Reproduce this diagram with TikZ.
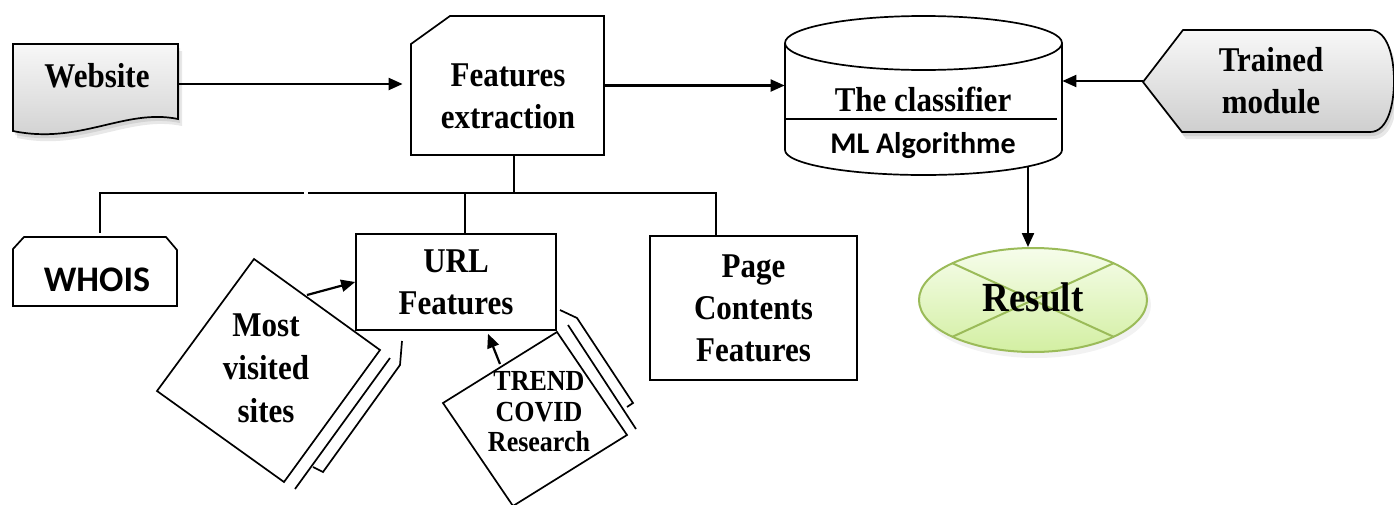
\documentclass[tikz,border=0pt]{standalone}
\usepackage{fontspec}
\setmainfont{Liberation Serif}
\newfontfamily\calibfont{Carlito}
\usetikzlibrary{arrows.meta,calc,shapes.geometric}
\definecolor{resgreen}{HTML}{9BBB59}
\definecolor{restop}{HTML}{F6FDEB}
\definecolor{resbot}{HTML}{D3EFA2}
% slightly tall lettering
\newcommand{\tl}[1]{\scalebox{1}[1.12]{#1}}
% outlines of the two shaded shapes
\def\websitepath{(13,-44) -- (178,-44) -- (178,-119) .. controls (125,-108) and (80,-145) .. (13,-131) -- cycle}
\def\trainedpath{(1143,-82) -- (1183,-30) -- (1370,-30) .. controls (1388,-30) and (1394,-58) .. (1394,-81) .. controls (1394,-104) and (1388,-132) .. (1370,-132) -- (1182,-132) -- cycle}
\begin{document}
\begin{tikzpicture}[x=0.5pt,y=0.5pt,
  outline/.style={draw=black,line width=0.85pt},
  link/.style={draw=black,line width=0.85pt},
  arr/.style={draw=black,line width=1.1pt,-{Triangle[length=7pt,width=6pt]}},
  serif/.style={font=\bfseries\fontsize{15.5}{21}\selectfont,align=center,inner sep=0pt},
  sans/.style={font=\calibfont\bfseries\fontsize{15}{18}\selectfont,align=center,inner sep=0pt},
  anchorbox/.style={inner sep=0pt,draw=none},
  paper/.style={top color=gray!6,bottom color=gray!38,draw=black,line width=0.85pt},
  softshade/.style={fill=black,opacity=0.09},
]
\useasboundingbox (0,0) rectangle (1394,-504);
\fill[white] (0,0) rectangle (1394,-504);
\clip (0,0) rectangle (1394,-504);

% ---------- Website (document shape) ----------
\begin{scope}[shift={(2,-4)}]\fill[softshade] \websitepath;\end{scope}
\begin{scope}[shift={(4,-7)}]\fill[softshade] \websitepath;\end{scope}
\path[paper] \websitepath;
\node[anchorbox,minimum width=82.5pt,minimum height=40pt] (website) at (95.5,-84) {};
\node[serif] (websiteT) at (97,-76) {\tl{Website}};

% ---------- Features extraction (snipped corner) ----------
\draw[outline,fill=white] (411,-44) -- (450,-16) -- (604,-16) -- (604,-155) -- (411,-155) -- cycle;
\node[anchorbox,minimum width=96.5pt,minimum height=69.5pt] (feat) at (507.5,-85.5) {};
\node[serif] (featT) at (508,-96) {\tl{Features}\\\tl{extraction}};

% ---------- The classifier (cylinder) ----------
\fill[white] (785,-43) -- (785,-150) arc[start angle=180,end angle=360,x radius=138.5,y radius=25] -- (1062,-43) -- cycle;
\draw[outline,fill=white] (923.5,-43) ellipse[x radius=138.5,y radius=27];
\draw[outline] (785,-43) -- (785,-150) arc[start angle=180,end angle=360,x radius=138.5,y radius=25] -- (1062,-43);
\draw[outline] (785,-119) -- (1057,-119);
\node[anchorbox,minimum width=138.5pt,minimum height=79.5pt] (clf) at (923.5,-95.5) {};
\node[serif] (clfT) at (923,-99) {\tl{The classifier}};
\node[sans] (mlT) at (923,-146) {ML Algorithme};

% ---------- Trained module (display shape) ----------
\begin{scope}[shift={(2,-4)}]\fill[softshade] \trainedpath;\end{scope}
\begin{scope}[shift={(4,-7)}]\fill[softshade] \trainedpath;\end{scope}
\path[paper] \trainedpath;
\node[anchorbox,minimum width=125pt,minimum height=51pt] (trained) at (1268,-81) {};
\node[serif] (trainedT) at (1271,-81) {\tl{Trained}\\\tl{module}};

% ---------- Result ----------
\fill[black,opacity=0.05] (1036,-305) ellipse[x radius=115,y radius=53];
\node[ellipse,draw=resgreen,line width=1pt,top color=restop,bottom color=resbot,
      minimum width=114pt,minimum height=52pt,inner sep=0pt] (res) at (1033,-300) {};
\draw[resgreen,line width=1pt] ($(res.center)+(-80.6,36.8)$) -- ($(res.center)+(80.6,-36.8)$);
\draw[resgreen,line width=1pt] ($(res.center)+(80.6,36.8)$) -- ($(res.center)+(-80.6,-36.8)$);
\node[serif,font=\bfseries\fontsize{18.5}{22}\selectfont] (resT) at (1033,-297) {\tl{Result}};

% ---------- main flow ----------
\draw[arr,shorten >=4pt] (website.east) -- (website.east -| feat.west);
\draw[arr] (feat.east) -- (feat.east -| clf.west);
\draw[arr] (trained.west) -- (trained.west -| clf.east);
\coordinate (clfout) at (1028,-166);
\draw[arr] (clfout) -- (clfout |- res.north);

% ---------- feature families ----------
\node[draw,line width=0.85pt,minimum width=100pt,minimum height=48pt,serif] (url) at (456,-282) {\tl{URL}\\\tl{Features}};
\node[draw,line width=0.85pt,minimum width=103.5pt,minimum height=72pt,serif] (page) at (753.5,-308) {\tl{Page}\\\tl{Contents}\\\tl{Features}};
\draw[outline,fill=white] (13,-306) -- (13,-249) -- (24,-237) -- (166,-237) -- (177,-250) -- (177,-306) -- cycle;
\node[anchorbox,minimum width=82pt,minimum height=35pt] (whois) at (95,-271) {};
\node[sans,font=\calibfont\bfseries\fontsize{18}{20}\selectfont] (whoisT) at (97,-280) {WHOIS};

% ---------- tree below Features extraction ----------
\coordinate (busC) at (514,-193);
\coordinate (gapL) at (304,-193);
\coordinate (gapR) at (308,-193);
\coordinate (dropU) at (465,-193);
\coordinate (dropP) at (716,-193);
\draw[link] (feat.south -| busC) -- (busC);
\draw[link] ($(whois.north)+(5,3)$) |- (gapL);
\draw[link] (gapR) -- (dropP) -- (dropP |- page.north);
\draw[link] (dropU) -- (dropU |- url.north);

% ---------- Most visited sites (stacked pages) ----------
\draw[outline] (402,-341) -- (400,-365) -- (323,-472) -- (313,-467);
\draw[outline] (390,-358) -- (295,-489);
\draw[outline,fill=white] (254,-259) -- (380,-350) -- (284,-482) -- (157,-391) -- cycle;
\node[serif,font=\bfseries\fontsize{15.5}{21.5}\selectfont] (mvs) at (266,-368) {\tl{Most}\\\tl{visited}\\\tl{sites}};
\coordinate (mvsOut) at (307,-295);
\draw[arr] (mvsOut) -- (url.west);

% ---------- TREND COVID Research (stacked pages) ----------
\draw[outline] (560,-310) -- (577,-318) -- (633,-403) -- (627,-407);
\draw[outline] (568,-325) -- (636,-429);
\draw[outline,fill=white] (557,-332) -- (627,-435) -- (513,-506) -- (443,-403) -- cycle;
\node[serif,font=\bfseries\fontsize{13}{15.3}\selectfont] (trend) at (539,-412) {\tl{TREND}\\\tl{COVID}\\\tl{Research}};
\coordinate (trOut) at (500,-364);
\draw[arr] (trOut) -- ($(url.south)+(32,-3)$);
\end{tikzpicture}
\end{document}
